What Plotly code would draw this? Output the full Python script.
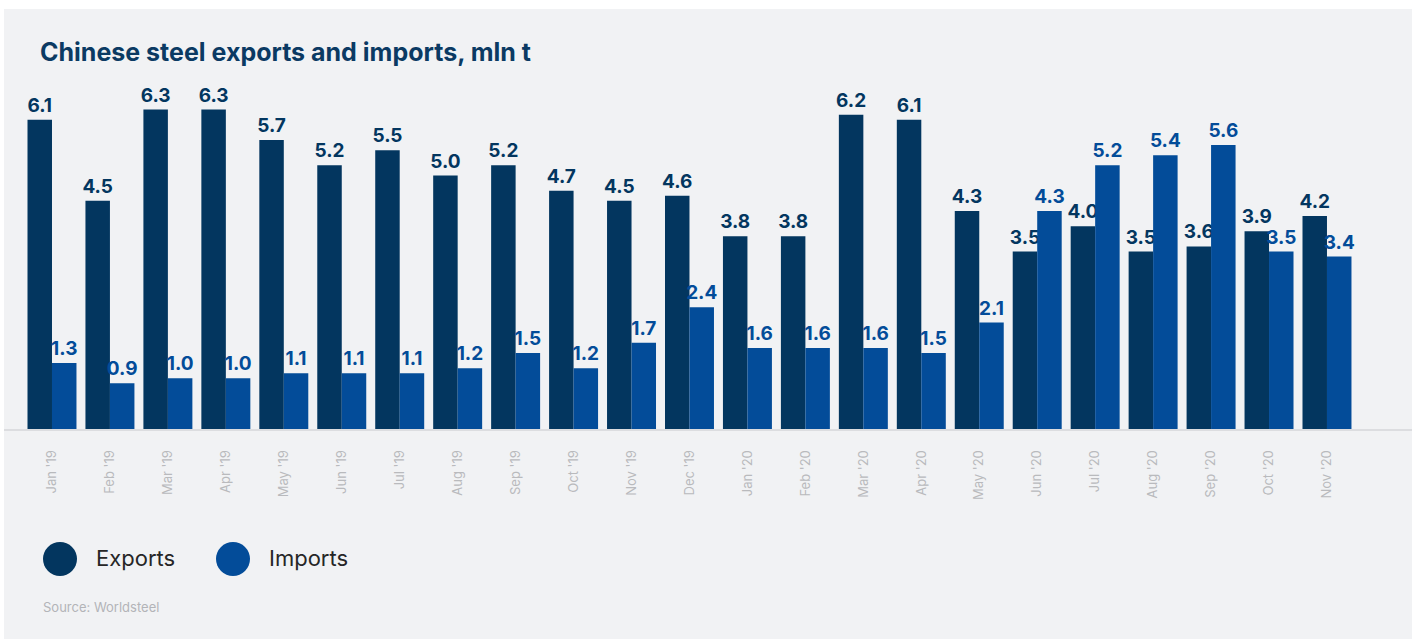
import plotly.graph_objects as go

months = ["Jan '19", "Feb '19", "Mar '19", "Apr '19", "May '19", "Jun '19", "Jul '19", "Aug '19",
          "Sep '19", "Oct '19", "Nov '19", "Dec '19", "Jan '20", "Feb '20", "Mar '20", "Apr '20",
          "May '20", "Jun '20", "Jul '20", "Aug '20", "Sep '20", "Oct '20", "Nov '20"]
exports = [6.1, 4.5, 6.3, 6.3, 5.7, 5.2, 5.5, 5.0, 5.2, 4.7, 4.5, 4.6, 3.8, 3.8, 6.2, 6.1,
           4.3, 3.5, 4.0, 3.5, 3.6, 3.9, 4.2]
imports = [1.3, 0.9, 1.0, 1.0, 1.1, 1.1, 1.1, 1.2, 1.5, 1.2, 1.7, 2.4, 1.6, 1.6, 1.6, 1.5,
           2.1, 4.3, 5.2, 5.4, 5.6, 3.5, 3.4]

EXP_C = "#03365f"
IMP_C = "#034c99"
BG = "#f1f2f4"
FONT = "Inter, Roboto, sans-serif"

W, H = 1416, 639
ml, mr, mt, mb = 4, 4, 60, 210
ph = H - mt - mb  # 369
pw = W - ml - mr

fig = go.Figure()
for name, vals, col in [("Exports", exports, EXP_C), ("Imports", imports, IMP_C)]:
    fig.add_trace(go.Bar(
        x=months, y=vals, name=name, marker=dict(color=col, line=dict(width=0)),
        texttemplate="%{y:.1f}", textposition="outside", constraintext="none",
        cliponaxis=False,
        textfont=dict(family=FONT, size=19, color=col, weight="bold"),
        showlegend=False,
    ))

def py2paper(py):
    return (H - mb - py) / ph

def px2paper(px):
    return (px - ml) / pw

shapes = [
    dict(type="rect", xref="paper", yref="paper", x0=0, x1=1,
         y0=py2paper(H + 5), y1=py2paper(9), fillcolor=BG, line=dict(width=0), layer="below"),
]
annotations = []
for name, col, cx in [("Exports", EXP_C, 60), ("Imports", IMP_C, 233)]:
    shapes.append(dict(type="circle", xref="paper", yref="paper",
                       xsizemode="pixel", ysizemode="pixel",
                       xanchor=px2paper(cx), yanchor=py2paper(559),
                       x0=-17, x1=17, y0=-17, y1=17,
                       fillcolor=col, line=dict(width=0)))
    annotations.append(dict(text=name, xref="paper", yref="paper", x=px2paper(cx + 34),
                            y=py2paper(558), xanchor="left", yanchor="middle", showarrow=False,
                            font=dict(family=FONT, size=22, color="#262626")))
annotations.append(dict(text="Source: Worldsteel", xref="paper", yref="paper", x=px2paper(41),
                        y=py2paper(607), xanchor="left", yanchor="middle", showarrow=False,
                        font=dict(family=FONT, size=13, color="#b3b4b8")))

fig.update_layout(
    width=W, height=H,
    margin=dict(l=ml, r=mr, t=mt, b=mb),
    paper_bgcolor="white", plot_bgcolor="rgba(0,0,0,0)",
    barmode="group", bargap=0.155, bargroupgap=0,
    title=dict(text="<b>Chinese steel exports and imports, mln t</b>", x=40 / W, xanchor="left",
               y=1 - 52 / H, yanchor="middle",
               font=dict(family=FONT, size=25, color="#0b3a63")),
    xaxis=dict(type="category", range=[-0.828, 23.467], tickangle=-90,
               showline=True, linecolor="#dcdde0", linewidth=2, showgrid=False,
               ticks="outside", ticklen=14, tickcolor="rgba(0,0,0,0)",
               tickfont=dict(family=FONT, size=13, color="#b9babd")),
    yaxis=dict(range=[0, ph / 50.7], visible=False, showgrid=False, zeroline=False),
    shapes=shapes, annotations=annotations,
)

fig.write_html("out.html")
